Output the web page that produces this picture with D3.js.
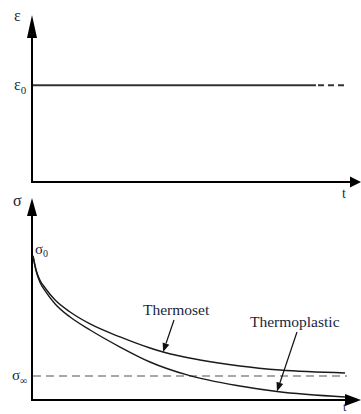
<!DOCTYPE html>
<html lang="en">
<head>
<meta charset="utf-8">
<title>Stress relaxation</title>
<script src="https://d3js.org/d3.v7.min.js"></script>
<style>
  body { margin: 0; background: #fff; }
  .axis { stroke: #000; stroke-width: 2; fill: none; }
  .head { fill: #000; }
  .curve { stroke: #1a1a1a; stroke-width: 1.4; fill: none; }
  .lbl { font-family: "Liberation Serif", "DejaVu Serif", serif; fill: #1a1f3d; }
</style>
</head>
<body>
<div id="container"></div>
<script>
var w = 361, h = 414;

// data (time in arbitrary units, strain/stress in arbitrary units)
var eps0 = 5.8;
var epsSolidEnd = 9.07, epsDashEnd = 10.06;

var sigmaInf = 1.67;
var thermosetT = [0, 0.10, 0.22, 0.39, 0.71, 1.19, 1.83, 2.79, 3.75, 4.17, 5.35, 6.63, 7.92, 10];
var thermosetS = [10, 9.03, 8.33, 7.78, 6.94, 6.11, 5.28, 4.38, 3.61, 3.33, 2.78, 2.36, 2.08, 1.88];
var thermoplasticT = [0, 0.10, 0.22, 0.39, 0.71, 1.19, 1.83, 2.79, 3.75, 4.94, 6.63, 7.82, 10];
var thermoplasticS = [10, 8.96, 8.19, 7.57, 6.67, 5.76, 4.86, 3.68, 2.64, 1.74, 0.97, 0.59, 0.21];

var labels = ["Thermoset", "Thermoplastic"];
var arrowAt = [4.17, 7.82];

var svg = d3.select("#container").append("svg")
  .attr("width", w).attr("height", h);

var x = d3.scaleLinear().domain([0, 10]).range([33, 345]);
var yTop = d3.scaleLinear().domain([0, 10]).range([182, 15]);
var yBot = d3.scaleLinear().domain([0, 10]).range([400, 256]);

var axX = 32;

// ---- top panel (strain) ----
svg.append("line").attr("class", "axis")
  .attr("x1", axX).attr("y1", 182).attr("x2", axX).attr("y2", 34);
svg.append("path").attr("class", "head")
  .attr("d", "M" + axX + ",15 L" + (axX - 5) + ",38 L" + (axX + 5) + ",38 Z");
svg.append("line").attr("class", "axis")
  .attr("x1", axX - 1).attr("y1", 182).attr("x2", 352).attr("y2", 182);
svg.append("path").attr("class", "head")
  .attr("d", "M361,182 L350,176.5 L350,187.5 Z");

svg.append("line")
  .attr("x1", x(0)).attr("x2", x(epsSolidEnd))
  .attr("y1", yTop(eps0)).attr("y2", yTop(eps0))
  .attr("stroke", "#333").attr("stroke-width", 2);
svg.append("line")
  .attr("x1", x(epsSolidEnd) + 2).attr("x2", x(epsDashEnd))
  .attr("y1", yTop(eps0)).attr("y2", yTop(eps0))
  .attr("stroke", "#333").attr("stroke-width", 2)
  .attr("stroke-dasharray", "6,4");

svg.append("text").attr("class", "lbl").attr("x", 14).attr("y", 21)
  .style("font-size", "16px").text("ε");
var e0 = svg.append("text").attr("class", "lbl").attr("x", 14).attr("y", yTop(eps0) + 5)
  .style("font-size", "16px");
e0.append("tspan").text("ε");
e0.append("tspan").attr("dy", 4).style("font-size", "11px").text("0");
svg.append("text").attr("class", "lbl").attr("x", 342).attr("y", 198)
  .style("font-size", "14px").text("t");

// ---- bottom panel (stress) ----
svg.append("line").attr("class", "axis")
  .attr("x1", axX).attr("y1", 400).attr("x2", axX).attr("y2", 212);
svg.append("path").attr("class", "head")
  .attr("d", "M" + axX + ",198 L" + (axX - 5) + ",216 L" + (axX + 5) + ",216 Z");
svg.append("line").attr("class", "axis")
  .attr("x1", axX - 1).attr("y1", 400).attr("x2", 348).attr("y2", 400);
svg.append("path").attr("class", "head")
  .attr("d", "M361,400 L345,394 L345,406 Z");

svg.append("line")
  .attr("x1", x(0)).attr("x2", 347)
  .attr("y1", yBot(sigmaInf)).attr("y2", yBot(sigmaInf))
  .attr("stroke", "#8c8c8c").attr("stroke-width", 1.6)
  .attr("stroke-dasharray", "8,5");

var line = d3.line()
  .x(function(d) { return x(d[0]); })
  .y(function(d) { return yBot(d[1]); })
  .curve(d3.curveMonotoneX);

var setPts = d3.zip(thermosetT, thermosetS);
var plasPts = d3.zip(thermoplasticT, thermoplasticS);

svg.append("path").attr("class", "curve").attr("d", line(setPts));
svg.append("path").attr("class", "curve").attr("d", line(plasPts));

svg.append("text").attr("class", "lbl").attr("x", 13).attr("y", 206)
  .style("font-size", "16px").text("σ");
var s0 = svg.append("text").attr("class", "lbl").attr("x", 35).attr("y", 254)
  .style("font-size", "15px");
s0.append("tspan").text("σ");
s0.append("tspan").attr("dy", 3).style("font-size", "10px").text("0");
var si = svg.append("text").attr("class", "lbl").attr("x", 12).attr("y", yBot(sigmaInf) + 4)
  .style("font-size", "15px");
si.append("tspan").text("σ");
si.append("tspan").attr("dy", 4).style("font-size", "10px").text("∞");
svg.append("text").attr("class", "lbl").attr("x", 343).attr("y", 411)
  .style("font-size", "12px").text("t");

// labels with arrows
var labelPos = [[143, 315], [250, 327]];
var arrowStart = [[174, 320], [297, 332]];
var curves = [setPts, plasPts];

labels.forEach(function(name, i) {
  svg.append("text").attr("class", "lbl")
    .attr("x", labelPos[i][0]).attr("y", labelPos[i][1])
    .style("font-size", "15.5px").text(name);

  var pts = curves[i];
  var tx = x(arrowAt[i]);
  var interp = d3.scaleLinear().domain(pts.map(function(p) { return p[0]; }))
    .range(pts.map(function(p) { return p[1]; }));
  var ty = yBot(interp(arrowAt[i]));
  var sx = arrowStart[i][0], sy = arrowStart[i][1];
  var ang = Math.atan2(ty - sy, tx - sx);
  var L = 9, W = 3.5;
  var bx = tx - L * Math.cos(ang), by = ty - L * Math.sin(ang);
  svg.append("line").attr("x1", sx).attr("y1", sy).attr("x2", bx).attr("y2", by)
    .attr("stroke", "#111").attr("stroke-width", 1.2);
  svg.append("path").attr("fill", "#111")
    .attr("d", "M" + tx + "," + ty +
      " L" + (bx + W * Math.sin(ang)) + "," + (by - W * Math.cos(ang)) +
      " L" + (bx - W * Math.sin(ang)) + "," + (by + W * Math.cos(ang)) + " Z");
});
</script>
</body>
</html>
